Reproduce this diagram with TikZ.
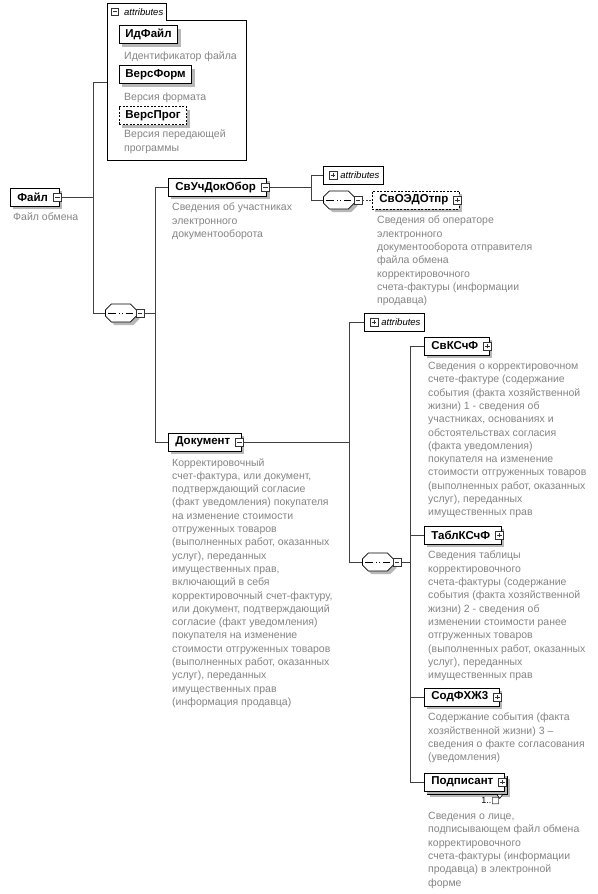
\documentclass[tikz,border=0pt]{standalone}
\usepackage{fontspec}
\setmainfont{Liberation Sans}
\newfontfamily\symfont{DejaVu Sans}
\usetikzlibrary{shapes.misc,shadows}
\definecolor{treeline}{HTML}{404040}
\definecolor{desctext}{HTML}{858585}
\definecolor{boxshadow}{HTML}{B8B8B8}
\newcommand{\seqgap}{\rule{0pt}{12pt}\hspace*{25pt}}
\tikzset{
  link/.style={draw=treeline, line width=0.8pt},
  optlink/.style={link, dash pattern=on 2pt off 1.5pt},
  basebox/.style={draw=black, line width=0.8pt, fill=white, anchor=west, minimum height=18pt,
    inner xsep=7pt, inner ysep=0pt, font=\fontsize{11.5}{13}\selectfont\bfseries,
    drop shadow={shadow xshift=3pt, shadow yshift=-3pt, fill=boxshadow, opacity=1}},
  elbox/.style={basebox, execute at end node={\hspace{4pt}}},
  optelbox/.style={elbox, dash pattern=on 2pt off 1.5pt},
  attbox/.style={basebox, inner xsep=6pt},
  optattbox/.style={attbox, dash pattern=on 2pt off 1.5pt},
  expbox/.style={draw=black!80, fill=white, line width=0.6pt, minimum size=8pt, inner sep=0pt},
  expminus/.style={expbox, path picture={
    \draw[line width=0.7pt] ([xshift=1.7pt]path picture bounding box.west) -- ([xshift=-1.7pt]path picture bounding box.east);}},
  expplus/.style={expbox, path picture={
    \draw[line width=0.7pt] ([xshift=1.7pt]path picture bounding box.west) -- ([xshift=-1.7pt]path picture bounding box.east)
      ([yshift=1.7pt]path picture bounding box.south) -- ([yshift=-1.7pt]path picture bounding box.north);}},
  seqbox/.style={chamfered rectangle, chamfered rectangle xsep=3pt, chamfered rectangle ysep=3pt,
    draw=black, line width=0.8pt, fill=white, inner sep=0pt, anchor=west,
    drop shadow={shadow xshift=3pt, shadow yshift=-3pt, fill=boxshadow, opacity=1},
    path picture={
      \draw[line width=0.9pt] ([xshift=3pt]path picture bounding box.west) -- ([xshift=-3pt]path picture bounding box.east);
      \foreach \d in {-3.4,0,3.4}
        \fill ([xshift=\d pt]path picture bounding box.center) ++(-1.4pt,-1.4pt) rectangle ++(2.8pt,2.8pt);}},
  attrbar/.style={draw=black, line width=0.8pt, fill=white, anchor=west, minimum height=18pt,
    inner xsep=4pt, inner ysep=0pt, font=\fontsize{9.5}{11}\selectfont\itshape,
    execute at begin node={\hspace{13pt}}},
  attrtab/.style={anchor=north west, minimum height=17pt, inner xsep=3pt, inner ysep=0pt,
    font=\fontsize{9.5}{11}\selectfont\itshape, execute at begin node={\hspace{14pt}}},
  descr/.style={anchor=north west, inner sep=0pt, align=left, text=desctext,
    font=\fontsize{10.5}{13.3}\selectfont, execute at begin node=\strut},
  mult/.style={font=\fontsize{9}{10}\selectfont, inner sep=0pt}
}
\begin{document}
\begin{tikzpicture}[x=1pt, y=-1pt]
  \fill[white] (0,0) rectangle (597,894);

  % root element
  \node[elbox] (file) at (10,197) {Файл};
  \node[expminus] (file-x) at ([xshift=-2pt]file.east) {};
  \node[descr] (file-d) at (13,211) {Файл обмена};

  % attributes of the root
  \node[attrtab] (atab) at (107,3) {attributes};
  \node[expminus, minimum size=7pt] (atab-x) at ([xshift=8pt]atab.west) {};
  \coordinate (agrp-se) at (246,160);
  \coordinate (agrp-in) at (107,82);
  \draw[line width=0.8pt] (atab.north west) -- (atab.north east) -- (atab.south east) -| (agrp-se) -| (atab.north west);
  \node[attbox] (idfile) at (119,34.5) {ИдФайл};
  \node[descr] (idfile-d) at (124,49.5) {Идентификатор файла};
  \node[attbox] (versform) at (119,74.5) {ВерсФорм};
  \node[descr] (versform-d) at (124,91) {Версия формата};
  \node[optattbox] (versprog) at (119,115.5) {ВерсПрог};
  \node[descr] (versprog-d) at (124,130) {Версия передающей\\программы};

  % first sequence
  \node[seqbox] (seq1) at (105,313) {\seqgap};
  \node[expminus, anchor=west] (seq1-x) at ([xshift=-1pt]seq1.east) {};
  \coordinate (j1) at (93,197);
  \draw[link] (file-x.east) -- (j1);
  \draw[link] (j1) |- (agrp-in);
  \draw[link] (j1) |- (seq1.west);

  % participants
  \node[elbox] (svuch) at (168,187) {СвУчДокОбор};
  \node[expminus] (svuch-x) at ([xshift=-2pt]svuch.east) {};
  \node[descr] (svuch-d) at (172,203) {Сведения об участниках\\электронного\\документооборота};

  \node[attrbar] (attr2) at (323,175) {attributes};
  \node[expplus] (attr2-x) at ([xshift=10pt]attr2.west) {};
  \node[seqbox] (seq2) at (323,200) {\seqgap};
  \node[expminus, anchor=west] (seq2-x) at ([xshift=-1pt]seq2.east) {};
  \node[optelbox] (svoedo) at (372,200) {СвОЭДОтпр};
  \node[expplus] (svoedo-x) at ([xshift=-2pt]svoedo.east) {};
  \node[descr] (svoedo-d) at (377,216) {Сведения об операторе\\электронного\\документооборота отправителя\\файла обмена\\корректировочного\\счета-фактуры (информации\\продавца)};

  % document
  \node[elbox] (doc) at (168,442) {Документ};
  \node[expminus] (doc-x) at ([xshift=-2pt]doc.east) {};
  \node[descr] (doc-d) at (172,458) {Корректировочный\\счет-фактура, или документ,\\подтверждающий согласие\\(факт уведомления) покупателя\\на изменение стоимости\\отгруженных товаров\\(выполненных работ, оказанных\\услуг), переданных\\имущественных прав,\\включающий в себя\\корректировочный счет-фактуру,\\или документ, подтверждающий\\согласие (факт уведомления)\\покупателя на изменение\\стоимости отгруженных товаров\\(выполненных работ, оказанных\\услуг), переданных\\имущественных прав\\(информация продавца)};

  \coordinate (j2) at (155,313);
  \draw[link] (seq1-x.east) -- (j2);
  \draw[link] (j2) |- (svuch.west);
  \draw[link] (j2) |- (doc.west);

  \coordinate (j3) at (311,187);
  \draw[link] (svuch-x.east) -- (j3);
  \draw[link] (j3) |- (attr2.west);
  \draw[link] (j3) |- (seq2.west);
  \draw[optlink] (seq2-x.east) -- (svoedo.west);

  \node[attrbar] (attr3) at (364,322) {attributes};
  \node[expplus] (attr3-x) at ([xshift=10pt]attr3.west) {};
  \node[seqbox] (seq3) at (362,562) {\seqgap};
  \node[expminus, anchor=west] (seq3-x) at ([xshift=-1pt]seq3.east) {};

  \node[elbox] (svksf) at (424,346) {СвКСчФ};
  \node[expplus] (svksf-x) at ([xshift=-2pt]svksf.east) {};
  \node[descr] (svksf-d) at (428,362) {Сведения о корректировочном\\счете-фактуре (содержание\\события (факта хозяйственной\\жизни) 1 - сведения об\\участниках, основаниях и\\обстоятельствах согласия\\(факта уведомления)\\покупателя на изменение\\стоимости отгруженных товаров\\(выполненных работ, оказанных\\услуг), переданных\\имущественных прав};

  \node[elbox] (tabl) at (424,535) {ТаблКСчФ};
  \node[expplus] (tabl-x) at ([xshift=-2pt]tabl.east) {};
  \node[descr] (tabl-d) at (428,551) {Сведения таблицы\\корректировочного\\счета-фактуры (содержание\\события (факта хозяйственной\\жизни) 2 - сведения об\\изменении стоимости ранее\\отгруженных товаров\\(выполненных работ, оказанных\\услуг), переданных\\имущественных прав};

  \node[elbox] (sod) at (424,697) {СодФХЖ3};
  \node[expplus] (sod-x) at ([xshift=-2pt]sod.east) {};
  \node[descr] (sod-d) at (428,713) {Содержание события (факта\\хозяйственной жизни) 3 –\\сведения о факте согласования\\(уведомления)};

  \node[elbox] (podp-bk) at (427,785) {\phantom{Подписант}};
  \node[elbox] (podp) at (424,782) {Подписант};
  \node[expplus] (podp-x) at ([xshift=-2pt]podp.east) {};
  \draw[line width=0.6pt, fill=white] ([xshift=-8pt]podp-bk.south east) -- ++(-3pt,0) -- ++(3pt,-4pt) -- ++(3pt,4pt) -- cycle;
  \node[mult, anchor=east] (podp-m) at (500,801) {1..{\symfont □}};
  \node[descr] (podp-d) at (428,812) {Сведения о лице,\\подписывающем файл обмена\\корректировочного\\счета-фактуры (информации\\продавца) в электронной\\форме};

  \coordinate (j4) at (349,442);
  \draw[link] (doc-x.east) -- (j4);
  \draw[link] (j4) |- (attr3.west);
  \draw[link] (j4) |- (seq3.west);

  \coordinate (j5) at (410,562);
  \draw[link] (seq3-x.east) -- (j5);
  \draw[link] (j5) |- (svksf.west);
  \draw[link] (j5) |- (tabl.west);
  \draw[link] (j5) |- (sod.west);
  \draw[link] (j5) |- (podp.west);
\end{tikzpicture}
\end{document}
